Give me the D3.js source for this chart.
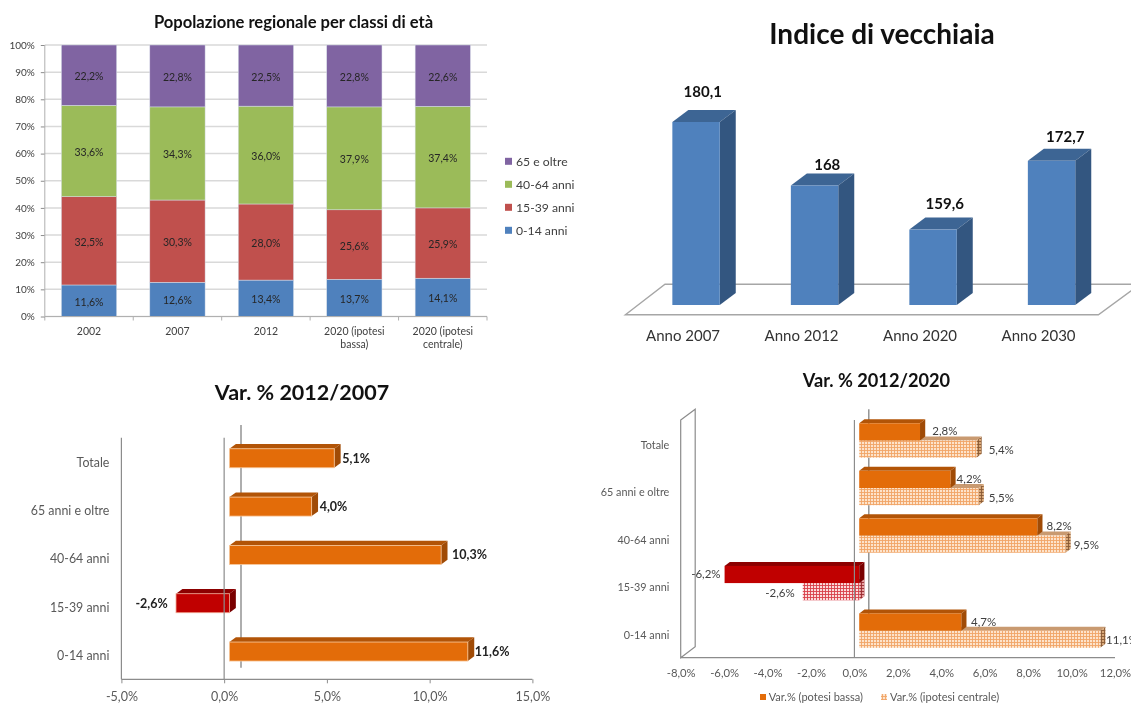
<!DOCTYPE html>
<html><head><meta charset="utf-8">
<script src="https://cdn.jsdelivr.net/npm/d3@7/dist/d3.min.js"></script>
<style>
html,body{margin:0;padding:0;background:#fff;overflow:hidden}
svg{display:block;filter:blur(0.45px)}
text{font-family:Lato,"Open Sans",sans-serif}
</style></head><body>
<svg id="c" width="1131" height="703"></svg>
<script>
// ---- data ----
const years = ["2002","2007","2012","2020 (ipotesi bassa)","2020 (ipotesi centrale)"];
const ageGroups = ["0-14 anni","15-39 anni","40-64 anni","65 e oltre"];
const age014 = [11.6,12.6,13.4,13.7,14.1];
const age1539 = [32.5,30.3,28.0,25.6,25.9];
const age4064 = [33.6,34.3,36.0,37.9,37.4];
const age65 = [22.2,22.8,22.5,22.8,22.6];
const pctTicks = [0,10,20,30,40,50,60,70,80,90,100];

const indexYears = ["Anno 2007","Anno 2012","Anno 2020","Anno 2030"];
const indexValues = [180.1,168,159.6,172.7];

const varCats = ["Totale","65 anni e oltre","40-64 anni","15-39 anni","0-14 anni"];
const var0712 = [5.1,4.0,10.3,-2.6,11.6];
const varLow = [2.8,4.2,8.2,-6.2,4.7];
const varCentral = [5.4,5.5,9.5,-2.6,11.1];
const ticks3 = [-5,0,5,10,15];
const ticks4 = [-8,-6,-4,-2,0,2,4,6,8,10,12];

// ---- helpers ----
const loc = d3.formatLocale({decimal:",",thousands:".",grouping:[3],currency:["","€"],minus:"-"});
const f1 = loc.format(".1f"), fi = loc.format(",.1~f");
const pc = v => f1(v)+"%";
const svg = d3.select("#c");
const GREY="#595959", AX="#8c8c8c";
const ageColors=["#4f81bd","#c0504d","#9bbb59","#8064a2"];
const title=(t,x,y,s)=>svg.append("text").attr("x",x).attr("y",y).attr("text-anchor","middle")
  .attr("dominant-baseline","central").attr("font-weight",700).attr("font-size",s).attr("fill","#111").text(t);
function styleAxis(g,size,color){g.selectAll("text").attr("font-size",size).attr("fill",color).style("font-family","Lato");
  g.selectAll(".domain").remove();g.selectAll("line").attr("stroke",AX);}
function bar3d(g,x0,x1,y,h,dx,dy,c){
  const l=Math.min(x0,x1), r=Math.max(x0,x1);
  g.append("path").attr("d",`M${l},${y}L${l+dx},${y-dy}L${r+dx},${y-dy}L${r},${y}Z`).attr("fill",c.top);
  g.append("path").attr("d",`M${r},${y}L${r+dx},${y-dy}L${r+dx},${y+h-dy}L${r},${y+h}Z`).attr("fill",c.side);
  g.append("rect").attr("x",l).attr("y",y).attr("width",r-l).attr("height",h).attr("fill",c.face)
    .attr("stroke",c.edge||"none").attr("stroke-width",c.edge?0.8:0);
}
function gridPattern(id,col,bg){
  const p=svg.append("defs").append("pattern").attr("id",id).attr("patternUnits","userSpaceOnUse").attr("width",3).attr("height",3);
  p.append("rect").attr("width",3).attr("height",3).attr("fill",bg);
  p.append("path").attr("d","M0,0.5H3M0.5,0V3").attr("stroke",col).attr("stroke-width",0.9);
}
gridPattern("hO","#f0a566","#fde3cb");
gridPattern("hR","#d8404a","#fbdcdc");
gridPattern("hOs","#8a5a34","#d9a878");
gridPattern("hRs","#9a2a30","#e8a0a0");

// ---- chart 1 ----
(function(){
  const x=d3.scaleBand().domain(years).range([44.8,487]).paddingInner(0.375).paddingOuter(0.1875);
  const y=d3.scaleLinear().domain([0,100]).range([316.5,45]);
  title("Popolazione regionale per classi di età",293.5,21.5,16.6);
  const g=svg.append("g");
  g.selectAll(".gl").data(pctTicks).join("line").attr("x1",44.8).attr("x2",487)
    .attr("y1",d=>y(d)).attr("y2",d=>y(d)).attr("stroke","#d9d9d9").attr("stroke-width",1.5);
  const rows=years.map((yr,i)=>({yr,"0":age014[i],"1":age1539[i],"2":age4064[i],"3":age65[i]}));
  const st=d3.stack().keys(["0","1","2","3"]).offset(d3.stackOffsetExpand)(rows);
  st.forEach((s,k)=>{
    g.selectAll(".b"+k).data(s).join("rect").attr("x",d=>x(d.data.yr)).attr("width",x.bandwidth())
      .attr("y",d=>y(d[1]*100)).attr("height",d=>y(d[0]*100)-y(d[1]*100))
      .attr("fill",ageColors[k]).attr("stroke","#d8dfe9").attr("stroke-width",0.5);
    g.selectAll(".l"+k).data(s).join("text").attr("x",d=>x(d.data.yr)+x.bandwidth()/2)
      .attr("y",d=>y((d[0]+d[1])*50)+1).attr("text-anchor","middle").attr("dominant-baseline","central")
      .attr("font-size",10.5).attr("fill","#262626").text(d=>pc(d.data[k]));
  });
  const ay=svg.append("g").attr("transform","translate(44.8,0)")
    .call(d3.axisLeft(y).tickValues(pctTicks).tickFormat(d=>d+"%").tickSize(4).tickPadding(6));
  styleAxis(ay,10,"#404040");
  svg.append("line").attr("x1",44.8).attr("x2",44.8).attr("y1",y(100)).attr("y2",y(0)).attr("stroke","#b0b0b0").attr("stroke-width",1);
  svg.append("line").attr("x1",44.8).attr("x2",487).attr("y1",y(0)).attr("y2",y(0)).attr("stroke","#b0b0b0").attr("stroke-width",1.2);
  g.selectAll(".tk").data(d3.range(years.length+1)).join("line")
    .attr("x1",i=>44.8+i*x.step()).attr("x2",i=>44.8+i*x.step()).attr("y1",y(0)).attr("y2",y(0)+4).attr("stroke","#b0b0b0");
  const ax=svg.append("g").attr("transform",`translate(0,${y(0)})`).call(d3.axisBottom(x).tickSize(0).tickPadding(11));
  styleAxis(ax,10.5,"#404040");
  ax.selectAll("text").each(function(d){
    const m=d.match(/^(.*\(ipotesi) (.*)\)$/); if(!m) return;
    const t=d3.select(this).text(null);
    t.append("tspan").attr("x",0).attr("dy","0.71em").text(m[1]);
    t.append("tspan").attr("x",0).attr("dy","13.3").text(m[2]+")");
    t.attr("dy",null);
  });
  const leg=d3.scalePoint().domain([3,2,1,0]).range([161.3,230.3]);
  [3,2,1,0].forEach(k=>{
    svg.append("rect").attr("x",505).attr("y",leg(k)-3.5).attr("width",7).attr("height",7).attr("fill",ageColors[k]);
    svg.append("text").attr("x",516).attr("y",leg(k)).attr("dominant-baseline","central").attr("font-size",12.2).attr("fill","#404040").text(ageGroups[k]);
  });
})();

// ---- chart 2 ----
(function(){
  const x=d3.scaleBand().domain(indexYears).range([636.8,1110.8]).paddingInner(0.6).paddingOuter(0.3);
  const y=d3.scaleLinear().domain([145.24,180.1]).range([305,122]);
  const labelNudgeY=[-31,-22,-27,-25];
  const labelNudgeX=[-25,-19,-20,-18];
  title("Indice di vecchiaia",882,33,28);
  const dx=16,dy=12;
  svg.append("path").attr("d","M625.4,314.7L665,284.3L1140,284.3L1098.4,314.7Z").attr("fill","#fff").attr("stroke","#a6a6a6").attr("stroke-width",1.4);
  const g=svg.append("g");
  indexValues.forEach((v,i)=>{
    const c=indexYears[i], bw=x.bandwidth(), bx=x(c);
    bar3d(g,bx,bx+bw,y(v),y.range()[0]-y(v),dx,dy,{face:"#4f81bd",top:"#3d6594",side:"#335680"});
    svg.append("text").attr("x",bx+bw+dx/2+labelNudgeX[i]).attr("y",y(v)+labelNudgeY[i]).attr("text-anchor","middle")
      .attr("dominant-baseline","central").attr("font-weight",700).attr("font-size",15).attr("fill","#111").text(fi(v));
  });
  const ax=svg.append("g").attr("transform","translate(-13,323.5)").call(d3.axisBottom(x).tickSize(0).tickPadding(7));
  styleAxis(ax,15,"#333");
})();

// ---- chart 3 ----
(function(){
  const x=d3.scaleLinear().domain([-5,15]).range([121.4,532.4]);
  const y=d3.scaleBand().domain(varCats).range([437.7,679.3]);
  const z=x(0)+5.3, h=19, dx=6.4, dy=4.7, shift=-3.6;
  const nudge=[1.6,1.6,4.5,0,0.4];
  title("Var. % 2012/2007",302,391.7,21.5);
  svg.append("line").attr("x1",241).attr("x2",241).attr("y1",425).attr("y2",667.7).attr("stroke",AX).attr("stroke-width",1.4);
  const g=svg.append("g");
  var0712.forEach((v,i)=>{
    const c=varCats[i], yy=y(c)+y.bandwidth()/2+shift-h/2, end=z+(x(v)-x(0));
    const col=v<0?{face:"#c00000",top:"#8c0000",side:"#7a0000",edge:"#f0a58f"}:{face:"#e36c09",top:"#b25407",side:"#a04b06",edge:"#f8c79a"};
    bar3d(g,z,end,yy,h,dx,dy,col);
    const t=svg.append("text").attr("y",yy+h/2+(i===0?0.5:0)).attr("dominant-baseline","central").attr("font-weight",700).attr("font-size",12.5).attr("fill","#222").text(pc(v));
    if(v<0) t.attr("x",end-8.3).attr("text-anchor","end"); else t.attr("x",end+dx+nudge[i]);
  });
  svg.append("line").attr("x1",x(-5)).attr("x2",x(-5)).attr("y1",437.7).attr("y2",679.3).attr("stroke",AX).attr("stroke-width",1.2);
  svg.append("line").attr("x1",x(0)).attr("x2",x(0)).attr("y1",437.7).attr("y2",679.3).attr("stroke",AX).attr("stroke-width",1.2);
  svg.append("line").attr("x1",x(-5)).attr("x2",x(15)).attr("y1",679.3).attr("y2",679.3).attr("stroke",AX).attr("stroke-width",1.2);
  const ax=svg.append("g").attr("transform","translate(0,679.3)")
    .call(d3.axisBottom(x).tickValues(ticks3).tickFormat(pc).tickSize(4).tickPadding(9));
  styleAxis(ax,12.5,GREY);
  const ay=svg.append("g").attr("transform","translate(121.4,1)").call(d3.axisLeft(y).tickSize(0).tickPadding(12));
  styleAxis(ay,12.4,GREY);
})();

// ---- chart 4 ----
(function(){
  const x=d3.scaleLinear().domain([-8,12]).range([680.7,1115]);
  const y=d3.scaleBand().domain(varCats).range([420,657.7]);
  const z=x(0)+4.8, h=17.2, dx=5.2, dy=4, shift=-3.3;
  const nudge1=[7,1,4,-4,4.5], nudge2=[7,5,3,-8,0.6];
  title("Var. % 2012/2020",876.4,380,18.2);
  svg.append("path").attr("d","M680.7,420L695.2,409.3L695.2,646.7L680.7,657.7Z").attr("fill","#fff").attr("stroke",AX).attr("stroke-width",1.2);
  svg.append("line").attr("x1",868.8).attr("x2",868.8).attr("y1",409.3).attr("y2",646.7).attr("stroke",AX).attr("stroke-width",1.4);
  const g=svg.append("g");
  const label=(v,end,yy,n)=>{
    const t=svg.append("text").attr("y",yy).attr("dominant-baseline","central").attr("font-size",11.5).attr("fill","#404040").text(pc(v));
    if(v<0) t.attr("x",end+n).attr("text-anchor","end"); else t.attr("x",end+dx+n);
  };
  varCats.forEach((c,i)=>{
    const mid=y(c)+y.bandwidth()/2+shift;
    const v2=varCentral[i], e2=z+(x(v2)-x(0));
    bar3d(g,z,e2,mid,h,dx,dy,v2<0?{face:"url(#hR)",top:"#b04048",side:"url(#hRs)"}:{face:"url(#hO)",top:"#c99a70",side:"url(#hOs)"});
    const v1=varLow[i], e1=z+(x(v1)-x(0));
    bar3d(g,z,e1,mid-h,h,dx,dy,v1<0?{face:"#c00000",top:"#8c0000",side:"#7a0000"}:{face:"#e36c09",top:"#b25407",side:"#a04b06"});
    label(v1,e1,mid-h/2-1,nudge1[i]);
    label(v2,e2,mid+h/2+0.5,nudge2[i]);
  });
  svg.append("line").attr("x1",x(0)).attr("x2",x(0)).attr("y1",420).attr("y2",657.7).attr("stroke",AX).attr("stroke-width",1.2);
  svg.append("line").attr("x1",x(-8)).attr("x2",x(12)).attr("y1",657.7).attr("y2",657.7).attr("stroke",AX).attr("stroke-width",1.2);
  const ax=svg.append("g").attr("transform","translate(0,657.7)")
    .call(d3.axisBottom(x).tickValues(ticks4).tickFormat(pc).tickSize(0).tickPadding(11));
  styleAxis(ax,11.3,GREY);
  const ay=svg.append("g").attr("transform","translate(680.7,1.5)").call(d3.axisLeft(y).tickSize(0).tickPadding(11.4));
  styleAxis(ay,10.8,GREY);
  svg.append("rect").attr("x",760).attr("y",694).attr("width",6).attr("height",6).attr("fill","#e36c09");
  svg.append("text").attr("x",768.7).attr("y",696.8).attr("dominant-baseline","central").attr("font-size",11).attr("fill",GREY).text("Var.% (potesi bassa)");
  svg.append("rect").attr("x",881).attr("y",694).attr("width",6).attr("height",6).attr("fill","url(#hO)");
  svg.append("text").attr("x",890).attr("y",696.8).attr("dominant-baseline","central").attr("font-size",11).attr("fill",GREY).text("Var.% (ipotesi centrale)");
})();
</script>
</body></html>
